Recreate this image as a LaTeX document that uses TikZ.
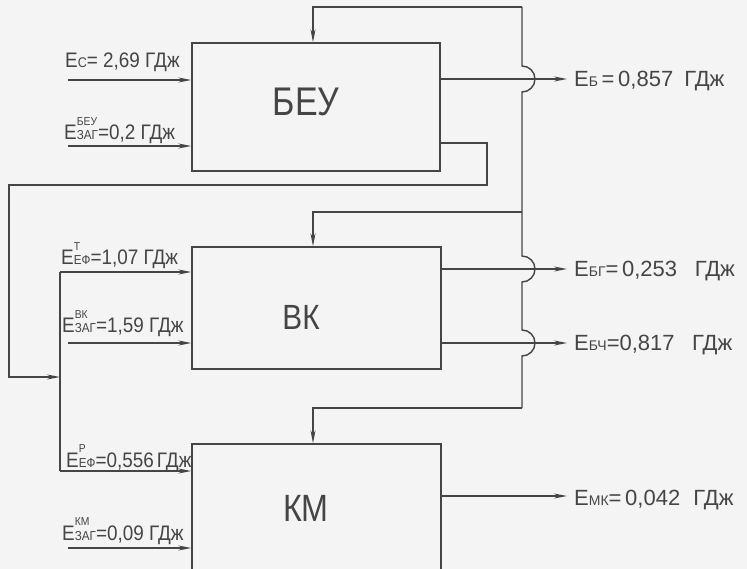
\documentclass[tikz,border=0pt]{standalone}
\usepackage{fontspec}
\setmainfont{Liberation Sans}
\newfontfamily\boxfont[FakeStretch=0.85]{Liberation Sans}
\newfontfamily\labfont[FakeStretch=0.9]{Liberation Sans}
\usetikzlibrary{arrows.meta}
\definecolor{ink}{HTML}{454545}
\definecolor{paper}{HTML}{F4F4F4}
\tikzset{
  ln/.style={draw=ink, line width=1.4pt},
  arr/.style={ln, -{Stealth[length=13pt,width=5pt]}},
  blk/.style={ln, rectangle, inner sep=0pt},
  blabel/.style={text=ink, inner sep=0pt},
  lab/.style={text=ink, inner sep=0pt, anchor=base west, font=\labfont\fontsize{21}{24}\selectfont},
  olab/.style={text=ink, inner sep=0pt, anchor=base west, font=\fontsize{22}{25}\selectfont},
}
\newcommand\Elab[2]{E\rlap{\raisebox{0.7em}{\fontsize{11.5}{11.5}\selectfont #2}}{\fontsize{13}{13}\selectfont #1}}
\newcommand\Es[1]{E{\fontsize{14}{14}\selectfont #1}}
\begin{document}
\begin{tikzpicture}[x=1pt,y=-1pt]
\fill[paper] (0,0) rectangle (747,569);
\useasboundingbox (0,0) rectangle (747,569);

% blocks
\node[blk, minimum width=248pt, minimum height=128pt,
  label={[blabel, xshift=-10pt, yshift=5pt, font=\boxfont\fontsize{40}{40}\selectfont]center:БЕУ}] (beu) at (316,107) {};
\node[blk, minimum width=249pt, minimum height=122pt,
  label={[blabel, xshift=-15.5pt, yshift=-9pt, font=\boxfont\fontsize{35}{35}\selectfont]center:ВК}] (vk) at (316.5,308) {};
\node[blk, minimum width=249pt, minimum height=131pt,
  label={[blabel, xshift=-10.5pt, yshift=1.5pt, font=\boxfont\fontsize{38}{38}\selectfont]center:КМ}] (km) at (316.5,509.5) {};

% supply bus on the right
\coordinate (busTop) at (522,7);
\coordinate (vkFeed) at (522,212);
\coordinate (kmFeed) at (522,408);
\draw[arr] (busTop) -| ([xshift=-3pt]beu.north);
\draw[ln] (busTop) -- (522,66) arc[start angle=90, end angle=-90, radius=13pt]
  -- (522,256) arc[start angle=90, end angle=-90, radius=13pt]
  -- (522,330) arc[start angle=90, end angle=-90, radius=13pt]
  -- (kmFeed);
\draw[arr] (vkFeed) -| ([xshift=-3.5pt]vk.north);
\draw[arr] (kmFeed) -| ([xshift=-3.5pt]km.north);

% outputs
\coordinate (oB) at (567,79);
\coordinate (oBG) at (567,269);
\coordinate (oBC) at (567,343);
\coordinate (oMK) at (567,496);
\draw[arr] (beu.east |- oB) -- (oB);
\draw[arr] (vk.east |- oBG) -- (oBG);
\draw[arr] (vk.east |- oBC) -- (oBC);
\draw[arr] (km.east |- oMK) -- (oMK);
\node[olab] (tB) at (574,87) {\Es{Б}\,=\,0,857\hspace{0.5em}ГДж};
\node[olab] (tBG) at (574,277) {\Es{БГ}=\,0,253\hspace{0.8em}ГДж};
\node[olab] (tBC) at (574,351) {\Es{БЧ}=0,817\hspace{0.8em}ГДж};
\node[olab] (tMK) at (574,505) {\Es{МК}=\,0,042\hspace{0.6em}ГДж};

% return loop from БЕУ
\coordinate (l1) at (487,143);
\coordinate (l2) at (487,185);
\coordinate (l3) at (9,185);
\coordinate (l4) at (9,377);
\coordinate (j) at (60,377);
\coordinate (jt) at (60,272);
\coordinate (jb) at (60,471);
\draw[arr] (beu.east |- l1) -- (l1) -- (l2) -- (l3) -- (l4) -- (j);
\draw[ln] (jt) -- (jb);
\draw[arr] (jt) -- (jt -| vk.west);
\draw[arr] (jb) -- (jb -| km.west);

% external inputs
\coordinate (inC) at (68,80);
\coordinate (inZ1) at (68,146);
\coordinate (inZ2) at (68,343);
\coordinate (inZ3) at (68,548);
\draw[arr] (inC) -- (inC -| beu.west);
\draw[arr] (inZ1) -- (inZ1 -| beu.west);
\draw[arr] (inZ2) -- (inZ2 -| vk.west);
\draw[arr] (inZ3) -- (inZ3 -| km.west);

% input labels
\node[lab] (tC) at (65,68) {\Es{С}= 2,69 ГДж};
\node[lab] (tZ1) at (64,140) {\Elab{ЗАГ}{БЕУ}=0,2 ГДж};
\node[lab] (tT) at (61,265) {\Elab{ЕФ}{Т}=1,07 ГДж};
\node[lab] (tZ2) at (62,333) {\Elab{ЗАГ}{ВК}=1,59 ГДж};
\node[lab] (tR) at (66,467) {\Elab{ЕФ}{Р}=0,556\hspace{0.15em}ГДж};
\node[lab] (tZ3) at (62,540) {\Elab{ЗАГ}{КМ}=0,09 ГДж};
\end{tikzpicture}
\end{document}
